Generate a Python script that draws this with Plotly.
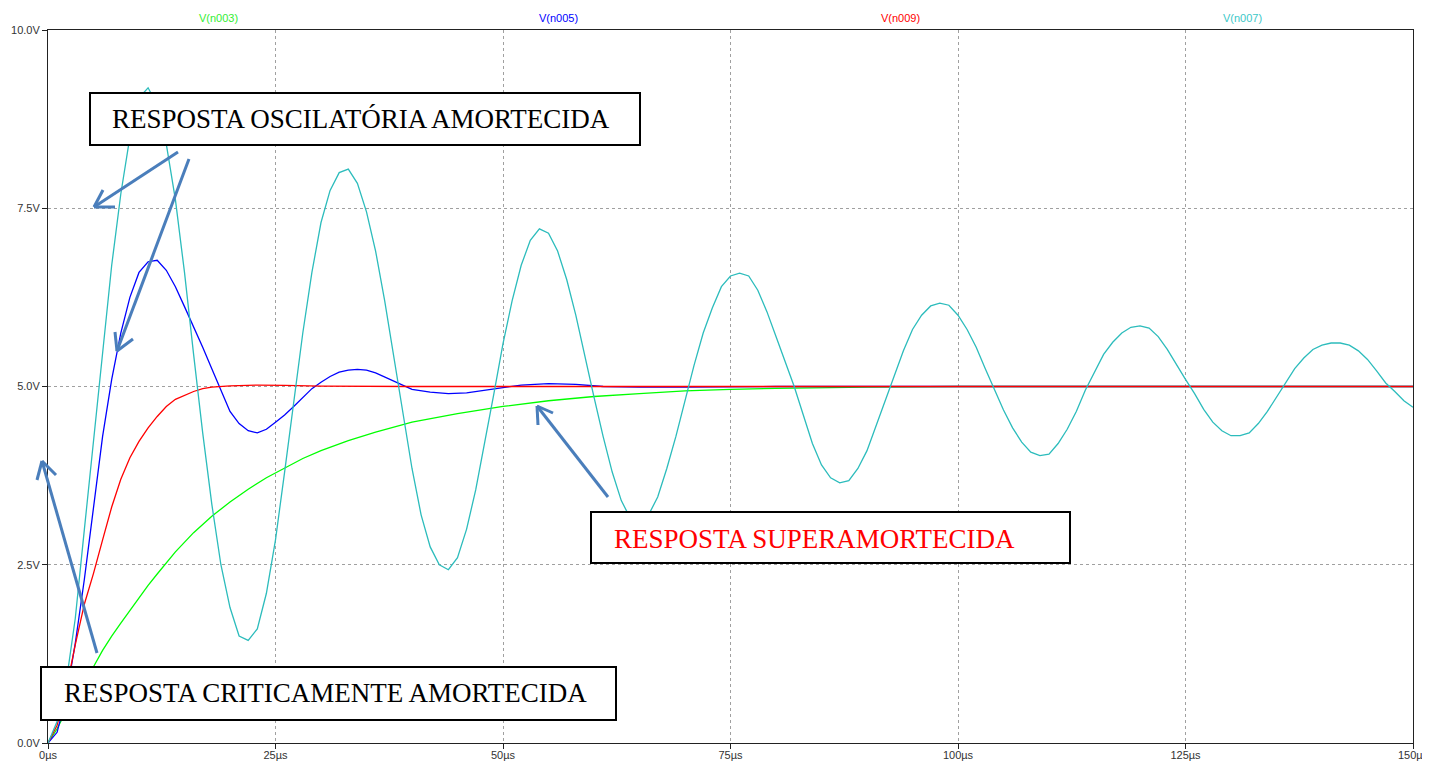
import plotly.graph_objects as go

# ---------------- data ----------------
t_cyan = list(range(0, 151))
v_cyan = [0, 0.3, 0.85, 1.75, 3.0, 4.25, 5.5, 6.7, 7.7, 8.5,
          9.05, 9.19, 8.95, 8.4, 7.62, 6.6, 5.45, 4.35, 3.35, 2.5,
          1.9, 1.5, 1.44, 1.6, 2.1, 2.85, 3.8, 4.8, 5.75, 6.6,
          7.3, 7.75, 8.0, 8.05, 7.85, 7.45, 6.9, 6.2, 5.4, 4.6,
          3.85, 3.2, 2.75, 2.5, 2.43, 2.6, 3.0, 3.55, 4.2, 4.9,
          5.6, 6.2, 6.7, 7.05, 7.21, 7.15, 6.9, 6.5, 6.0, 5.4,
          4.85, 4.3, 3.8, 3.4, 3.15, 3.1, 3.2, 3.45, 3.85, 4.3,
          4.8, 5.3, 5.75, 6.1, 6.4, 6.55, 6.59, 6.55, 6.35, 6.05,
          5.7, 5.35, 5.0, 4.6, 4.2, 3.9, 3.72, 3.65, 3.68, 3.85,
          4.1, 4.45, 4.8, 5.15, 5.5, 5.8, 6.0, 6.13, 6.17, 6.14,
          6.0, 5.8, 5.55, 5.25, 4.97, 4.67, 4.42, 4.22, 4.08, 4.03,
          4.05, 4.2, 4.4, 4.65, 4.95, 5.2, 5.45, 5.62, 5.75, 5.83,
          5.85, 5.82, 5.7, 5.52, 5.3, 5.1, 4.9, 4.68, 4.5, 4.38,
          4.31, 4.31, 4.35, 4.48, 4.65, 4.85, 5.05, 5.25, 5.4, 5.52,
          5.58, 5.61, 5.61, 5.58, 5.5, 5.38, 5.22, 5.05, 4.93, 4.8,
          4.71]

t_blue = [0, 1, 2, 3, 4, 5, 6, 7, 8, 9, 10, 11, 12, 13, 14, 15, 16, 17, 18, 19,
          20, 21, 22, 23, 24, 25, 26, 27, 28, 29, 30, 31, 32, 33, 34, 35, 36, 37,
          38, 39, 40, 42, 44, 46, 48, 50, 52, 55, 58, 61, 65, 70, 80, 100, 150]
v_blue = [0, 0.15, 0.65, 1.4, 2.3, 3.3, 4.3, 5.1, 5.75, 6.25, 6.6, 6.75, 6.77,
          6.63, 6.4, 6.12, 5.84, 5.55, 5.25, 4.95, 4.65, 4.48, 4.38, 4.35, 4.4,
          4.5, 4.6, 4.72, 4.85, 4.97, 5.06, 5.14, 5.2, 5.23, 5.24, 5.23, 5.19,
          5.13, 5.07, 5.01, 4.96, 4.92, 4.9, 4.91, 4.95, 4.99, 5.02, 5.04, 5.03,
          5.0, 4.99, 4.99, 5.0, 5.0, 5.0]

t_red = [0, 1, 2, 3, 4, 5, 6, 7, 8, 9, 10, 11, 12, 13, 14, 15, 16, 17, 18, 20,
         23, 26, 30, 40, 150]
v_red = [0, 0.25, 0.75, 1.38, 1.95, 2.38, 2.85, 3.31, 3.7, 4.0, 4.23, 4.42,
         4.58, 4.72, 4.82, 4.88, 4.93, 4.97, 4.99, 5.01, 5.02, 5.015, 5.005,
         5.0, 5.0]

t_green = [0, 1, 2, 3, 4, 5, 6, 7, 8, 9, 10, 11, 12, 13, 14, 16, 18, 20, 22,
           24, 26, 28, 30, 33, 36, 40, 45, 50, 55, 60, 65, 70, 75, 80, 90, 100,
           150]
v_green = [0, 0.2, 0.45, 0.68, 0.88, 1.07, 1.3, 1.5, 1.68, 1.86, 2.04, 2.21,
           2.37, 2.53, 2.68, 2.95, 3.18, 3.38, 3.56, 3.72, 3.86, 3.99, 4.1,
           4.24, 4.36, 4.5, 4.62, 4.72, 4.8, 4.86, 4.9, 4.94, 4.96, 4.975,
           4.99, 5.0, 5.0]

series_names = ["V(n003)", "V(n005)", "V(n009)", "V(n007)"]
series_colors = ["#00ff00", "#0000ff", "#ff0000", "#2cbcbc"]
label_colors = ["#33ee33", "#0000ff", "#ff0000", "#3cc8c8"]

x_tickvals = [0, 25, 50, 75, 100, 125, 150]
x_ticktext = ["0µs", "25µs", "50µs", "75µs", "100µs", "125µs", "150µs"]
y_tickvals = [0, 2.5, 5, 7.5, 10]
y_ticktext = ["0.0V", "2.5V", "5.0V", "7.5V", "10.0V"]

box_texts = ["RESPOSTA OSCILATÓRIA AMORTECIDA",
             "RESPOSTA CRITICAMENTE AMORTECIDA",
             "RESPOSTA SUPERAMORTECIDA"]
box_text_colors = ["#000000", "#000000", "#ff0000"]

# ---------------- layout geometry ----------------
# the page body has an 8px margin, so the figure is placed at (8, 8)
OFF = 8
W, H = 1430 - OFF, 762 - OFF
ML, MR, MT, MB = 48 - OFF, 17, 30 - OFF, 19
PW, PH = W - ML - MR, H - MT - MB


def px(x):
    # reference-window pixel x -> paper fraction
    return (x - OFF - ML) / PW


def py(y):
    return (H - MB - (y - OFF)) / PH


fig = go.Figure()
traces = [(t_green, v_green), (t_blue, v_blue), (t_red, v_red), (t_cyan, v_cyan)]
for (tx, vy), name, col in zip(traces, series_names, series_colors):
    fig.add_trace(go.Scatter(x=tx, y=vy, mode="lines", name=name,
                             line=dict(color=col, width=1.3), showlegend=False))

shapes = []
annotations = []

# series labels on top
label_x = [218, 558, 900, 1242]
for name, col, lx in zip(series_names, label_colors, label_x):
    annotations.append(dict(x=px(lx), y=py(18), xref="paper", yref="paper",
                            text=name, showarrow=False,
                            font=dict(family="Liberation Sans, Arial", size=11,
                                      color=col),
                            xanchor="center", yanchor="middle"))

# text boxes
boxes = [(90, 93, 640, 145, 110, 119),
         (41, 667, 616, 720, 62, 693),
         (591, 512, 1070, 563, 612, 539)]
for (x0, y0, x1, y1, tx, ty), txt, tc in zip(boxes, box_texts, box_text_colors):
    shapes.append(dict(type="rect", xref="paper", yref="paper",
                       x0=px(x0), x1=px(x1), y0=py(y1), y1=py(y0),
                       fillcolor="white", line=dict(color="black", width=2),
                       layer="above"))
    annotations.append(dict(x=px(tx), y=py(ty), xref="paper", yref="paper",
                            text=txt, showarrow=False,
                            font=dict(family="Liberation Serif, Times New Roman",
                                      size=27, color=tc),
                            xanchor="left", yanchor="middle"))

# arrows (line + open arrowhead), pixel positions of the decoration
arrows = [((178, 152), (94, 207), (103, 190), (115, 207)),
          ((189, 159), (117, 351), (115, 332), (133, 339)),
          ((608, 497), (537, 406), (538, 425), (553, 413)),
          ((97, 653), (42, 461), (56, 475), (37, 480))]
acol = "#4a7ebb"
for (s, tip, b1, b2) in arrows:
    for a, b in ((s, tip), (b1, tip), (b2, tip)):
        shapes.append(dict(type="line", xref="paper", yref="paper",
                           x0=px(a[0]), y0=py(a[1]), x1=px(b[0]), y1=py(b[1]),
                           line=dict(color=acol, width=3), layer="above"))

axis_common = dict(showline=True, linecolor="#222", linewidth=1, mirror=True,
                   ticks="outside", ticklen=5, tickcolor="#222", tickwidth=1,
                   showgrid=True, gridcolor="#a0a0a0", griddash="dot",
                   gridwidth=1, zeroline=False, automargin=False,
                   tickfont=dict(family="Liberation Sans, Arial", size=11,
                                 color="#333"))

fig.update_layout(
    width=W, height=H,
    margin=dict(l=ML, r=MR, t=MT, b=MB),
    paper_bgcolor="white", plot_bgcolor="white",
    xaxis=dict(range=[0, 150], tickvals=x_tickvals, ticktext=x_ticktext,
               ticklabelstandoff=-3, **axis_common),
    yaxis=dict(range=[0, 10], tickvals=y_tickvals, ticktext=y_ticktext,
               **axis_common),
    shapes=shapes, annotations=annotations,
)

fig.write_html("out.html")
